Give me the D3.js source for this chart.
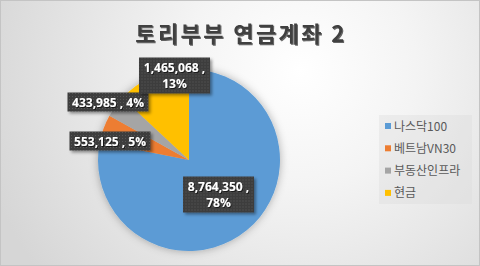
<!DOCTYPE html>
<html>
<head>
<meta charset="utf-8">
<script src="https://cdn.jsdelivr.net/npm/d3@7"></script>
<style>
  body { margin: 0; background: #fff; }
  #graf { width: 480px; height: 266px; }
</style>
</head>
<body>
<div id="graf"></div>
<script>
const categorias = ['나스닥100', '베트남VN30', '부동산인프라', '현금']
const valores = [8764350, 553125, 433985, 1465068]
const colores = ['#5b9bd5', '#ed7d31', '#a5a5a5', '#ffc000']
const titulo = '토리부부 연금계좌 2'

const anchoTotal = 480
const altoTotal = 266

const svg = d3.select('#graf')
  .append('svg')
  .attr('width', anchoTotal)
  .attr('height', altoTotal)

const defs = svg.append('defs')

const fondo = defs.append('radialGradient')
  .attr('id', 'fondo')
  .attr('gradientUnits', 'userSpaceOnUse')
  .attr('cx', 300).attr('cy', 70).attr('r', 330)
fondo.append('stop').attr('offset', '0').attr('stop-color', '#ffffff')
fondo.append('stop').attr('offset', '0.35').attr('stop-color', '#f4f4f4')
fondo.append('stop').attr('offset', '1').attr('stop-color', '#d6d6d6')

const puntos = defs.append('pattern')
  .attr('id', 'puntos')
  .attr('width', 3).attr('height', 3)
  .attr('patternUnits', 'userSpaceOnUse')
puntos.append('rect').attr('width', 3).attr('height', 3).attr('fill', '#3d3d3d')
puntos.append('rect').attr('width', 1).attr('height', 1).attr('fill', '#575757')

const sombra = defs.append('filter').attr('id', 'sombra')
  .attr('x', '-20%').attr('y', '-20%').attr('width', '140%').attr('height', '140%')
sombra.append('feDropShadow')
  .attr('dx', 0).attr('dy', 0).attr('stdDeviation', 4)
  .attr('flood-color', '#000').attr('flood-opacity', 0.3)

const sombraCaja = defs.append('filter').attr('id', 'sombraCaja')
  .attr('x', '-20%').attr('y', '-30%').attr('width', '150%').attr('height', '170%')
sombraCaja.append('feDropShadow')
  .attr('dx', 2).attr('dy', 2).attr('stdDeviation', 1.5)
  .attr('flood-color', '#000').attr('flood-opacity', 0.4)

const sombraTexto = defs.append('filter').attr('id', 'sombraTexto')
sombraTexto.append('feDropShadow')
  .attr('dx', 1).attr('dy', 1).attr('stdDeviation', 0.5)
  .attr('flood-color', '#000').attr('flood-opacity', 0.6)

svg.append('rect')
  .attr('x', 0.5).attr('y', 0.5)
  .attr('width', anchoTotal - 1).attr('height', altoTotal - 1)
  .attr('fill', 'url(#fondo)')
  .attr('stroke', '#c4c4c4')

svg.append('text')
  .attr('x', 241)
  .attr('y', 42)
  .attr('text-anchor', 'middle')
  .attr('font-family', 'Noto Sans CJK KR')
  .attr('font-weight', 'bold')
  .attr('font-size', 22)
  .attr('letter-spacing', 2.4)
  .attr('fill', '#404040')
  .attr('filter', 'url(#sombraTexto)')
  .text(titulo)

const radio = 91
const g = svg.append('g')
  .attr('transform', 'translate(189, 160)')

const total = d3.sum(valores)
const pie = d3.pie().sort(null)
const arc = d3.arc().innerRadius(0).outerRadius(radio)
const arcos = pie(valores)

g.append('g')
  .attr('filter', 'url(#sombra)')
  .selectAll('path')
  .data(arcos)
  .enter()
  .append('path')
    .attr('d', arc)
    .attr('fill', (d, i) => colores[i])

// label box centres relative to pie centre
const posEtiquetas = [[29.5, 34.5], [-79, -19], [-81, -58], [-14.5, -84.5]]
const fmt = d3.format(',')
const dosLineas = [true, false, false, true]

arcos.forEach((d, i) => {
  const pct = Math.round(valores[i] / total * 100) + '%'
  const lineas = dosLineas[i]
    ? [fmt(valores[i]) + ' ,', pct]
    : [fmt(valores[i]) + ' , ' + pct]
  const ancho = dosLineas[i] ? 71 : 81
  const alto = dosLineas[i] ? 36 : 19
  const [cx, cy] = posEtiquetas[i]
  const eg = g.append('g').attr('transform', `translate(${cx}, ${cy})`)
  eg.append('rect')
    .attr('x', -ancho / 2).attr('y', -alto / 2)
    .attr('width', ancho).attr('height', alto)
    .attr('fill', 'url(#puntos)')
    .attr('filter', 'url(#sombraCaja)')
  eg.selectAll('text')
    .data(lineas)
    .enter()
    .append('text')
      .attr('text-anchor', 'middle')
      .attr('x', 0)
      .attr('y', (t, j) => (j - (lineas.length - 1) / 2) * 16 + 4.5)
      .attr('font-family', 'Open Sans')
      .attr('font-weight', 'bold')
      .attr('font-size', 12)
      .attr('fill', '#ffffff')
      .attr('filter', 'url(#sombraTexto)')
      .text(t => t)
})

const leyenda = svg.append('g')
  .attr('transform', 'translate(379, 115)')

leyenda.append('rect')
  .attr('width', 93).attr('height', 89)
  .attr('fill', '#d9d9d9')
  .attr('fill-opacity', 0.35)

const filas = leyenda.selectAll('g.fila')
  .data(categorias)
  .enter()
  .append('g')
    .attr('class', 'fila')
    .attr('transform', (d, i) => `translate(0, ${11 + i * 22.3})`)

filas.append('rect')
  .attr('x', 6).attr('y', -3)
  .attr('width', 6).attr('height', 6)
  .attr('fill', (d, i) => colores[i])

filas.append('text')
  .attr('x', 15)
  .attr('y', 4.5)
  .attr('font-family', 'Noto Sans CJK KR')
  .attr('font-size', 12)
  .attr('fill', '#595959')
  .text(d => d)
</script>
</body>
</html>
